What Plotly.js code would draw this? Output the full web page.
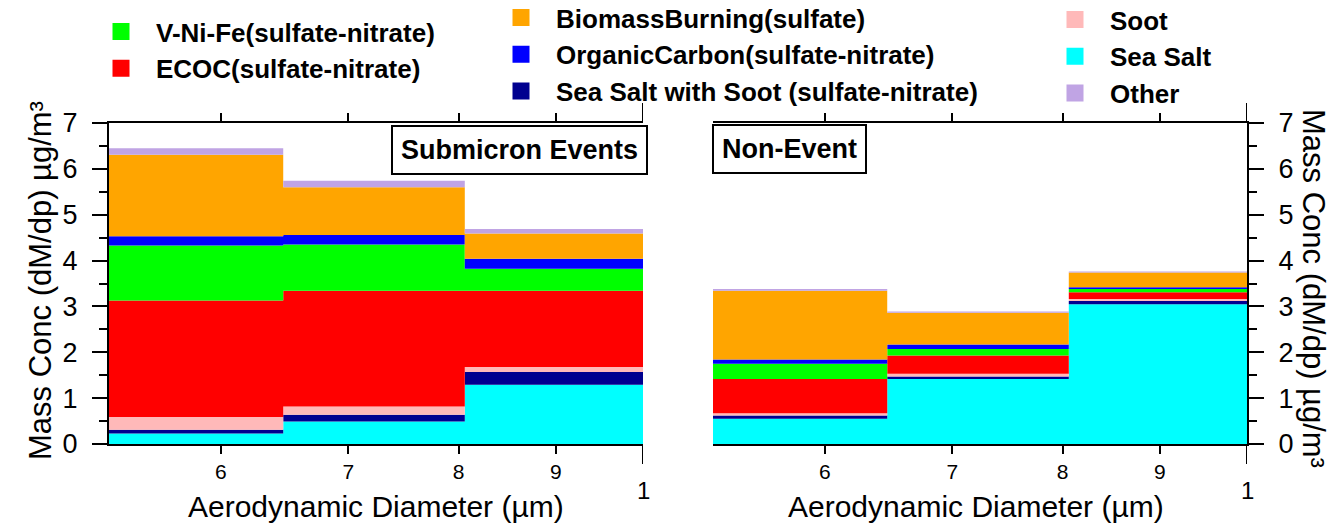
<!DOCTYPE html>
<html><head><meta charset="utf-8">
<script src="https://cdn.plot.ly/plotly-3.0.1.min.js"></script>
<style>html,body{margin:0;padding:0;background:#fff}</style>
</head><body>
<div id="chart" style="width:1343px;height:523px"></div>
<script>
// Bin edges of the aerodynamic diameter (µm), log-spaced
const binEdges = [0.524, 0.647, 0.806, 1.0];
const tickVals = [0.6, 0.7, 0.8, 0.9];
const tickText = ['6', '7', '8', '9'];
const majorTickVal = 1;
const majorTickText = '1';

// Series names (stack order bottom -> top) and colours
const seriesNames = ['Sea Salt', 'Sea Salt with Soot (sulfate-nitrate)', 'Soot', 'ECOC(sulfate-nitrate)',
  'V-Ni-Fe(sulfate-nitrate)', 'OrganicCarbon(sulfate-nitrate)', 'BiomassBurning(sulfate)', 'Other'];
const seriesColors = ['#00ffff', '#00008f', '#ffb9b9', '#ff0000', '#00ff00', '#0000ff', '#ffa500', '#c0a4e4'];

// Submicron Events (µg/m3 per bin)
const seaSaltEvent   = [0.23, 0.49, 1.29];
const ssSootEvent    = [0.08, 0.15, 0.28];
const sootEvent      = [0.28, 0.18, 0.11];
const ecocEvent      = [2.54, 2.52, 1.66];
const vnifeEvent     = [1.20, 1.01, 0.48];
const ocEvent        = [0.20, 0.21, 0.22];
const biomassEvent   = [1.78, 1.04, 0.55];
const otherEvent     = [0.14, 0.14, 0.10];

// Non-Event
const seaSaltNon   = [0.55, 1.42, 3.05];
const ssSootNon    = [0.07, 0.05, 0.07];
const sootNon      = [0.05, 0.06, 0.04];
const ecocNon      = [0.75, 0.40, 0.15];
const vnifeNon     = [0.33, 0.14, 0.07];
const ocNon        = [0.09, 0.10, 0.04];
const biomassNon   = [1.50, 0.69, 0.32];
const otherNon     = [0.04, 0.03, 0.02];

// Legend columns (by series index)
const legendCol1 = [4, 3];
const legendCol2 = [6, 5, 1];
const legendCol3 = [2, 0, 7];

const eventSeries = [seaSaltEvent, ssSootEvent, sootEvent, ecocEvent, vnifeEvent, ocEvent, biomassEvent, otherEvent];
const nonSeries = [seaSaltNon, ssSootNon, sootNon, ecocNon, vnifeNon, ocNon, biomassNon, otherNon];

const FONT = 'Liberation Sans, Arial, sans-serif';
const W = 1343, H = 523;
const xDom1 = [109 / W, 643 / W];
const xDom2 = [713 / W, 1247 / W];
const yDom = [1 - 444 / H, 1 - 123 / H];

const traces = [];
function addPanel(series, xa, ya, group) {
  series.forEach((vals, i) => {
    traces.push({
      type: 'scatter', mode: 'lines',
      x: binEdges, y: vals.concat([vals[vals.length - 1]]),
      xaxis: xa, yaxis: ya, stackgroup: group,
      line: {shape: 'hv', width: 0, color: seriesColors[i]},
      fillcolor: seriesColors[i],
      name: seriesNames[i], legendgroup: seriesNames[i],
      showlegend: false, hoverinfo: 'skip'
    });
  });
}
addPanel(eventSeries, 'x', 'y', 'ev');
addPanel(nonSeries, 'x2', 'y2', 'non');

[[legendCol1, 'legend'], [legendCol2, 'legend2'], [legendCol3, 'legend3']].forEach(([col, lg]) => {
  col.forEach(i => {
    traces.push({
      type: 'bar', x: [null], y: [null], xaxis: 'x', yaxis: 'y',
      name: seriesNames[i], legendgroup: seriesNames[i], legend: lg, showlegend: true,
      marker: {color: seriesColors[i], line: {color: seriesColors[i], width: 5}},
      hoverinfo: 'skip'
    });
  });
});

const xAxisBase = {
  type: 'log', range: [Math.log10(binEdges[0]), Math.log10(binEdges[binEdges.length - 1])],
  tickmode: 'array', tickvals: tickVals, ticktext: tickText,
  ticks: 'outside', ticklen: 8, tickwidth: 2, tickcolor: '#000',
  showline: true, linewidth: 2, linecolor: '#000', mirror: 'ticks',
  showgrid: false, zeroline: false, fixedrange: true,
  tickfont: {family: FONT, size: 21, color: '#000'}
};
const yAxisBase = {
  range: [0, 7], tick0: 0, dtick: 1, domain: yDom,
  ticks: 'outside', ticklen: 15, tickwidth: 2, tickcolor: '#000',
  minor: {dtick: 0.5, ticks: 'outside', ticklen: 8, tickwidth: 2, tickcolor: '#000', showgrid: false},
  showline: true, linewidth: 2, linecolor: '#000', mirror: false,
  showgrid: false, zeroline: false, fixedrange: true, ticklabelstandoff: 9,
  tickfont: {family: FONT, size: 27, color: '#000'}
};

const legendBase = {
  xanchor: 'left', yanchor: 'top', bgcolor: 'rgba(0,0,0,0)', borderwidth: 0,
  itemwidth: 60, tracegroupgap: 0, traceorder: 'normal', itemclick: false, itemdoubleclick: false,
  font: {family: FONT, size: 26, color: '#000', weight: 'bold'}
};

// Long major ticks at diameter = 1 (top and bottom of each panel)
const tickLong = 20 / H;
const shapes = [];
['x', 'x2'].forEach(xa => {
  shapes.push({type: 'line', xref: xa, yref: 'paper', x0: majorTickVal, x1: majorTickVal, y0: yDom[0] - tickLong, y1: yDom[0], line: {color: '#000', width: 2}});
  shapes.push({type: 'line', xref: xa, yref: 'paper', x0: majorTickVal, x1: majorTickVal, y0: yDom[1], y1: yDom[1] + tickLong, line: {color: '#000', width: 2}});
});

const yTitle = 'Mass Conc (dM/dp) µg/m³';
const xTitle = 'Aerodynamic Diameter (µm)';
const annotations = [
  {text: yTitle, xref: 'paper', yref: 'paper', x: 40 / W, y: 1 - 281 / H, xanchor: 'center', yanchor: 'middle',
   textangle: -90, showarrow: false, font: {family: FONT, size: 31, color: '#000'}},
  {text: yTitle, xref: 'paper', yref: 'paper', x: 1314 / W, y: 1 - 288 / H, xanchor: 'center', yanchor: 'middle',
   textangle: 90, showarrow: false, font: {family: FONT, size: 31, color: '#000'}},
  {text: xTitle, xref: 'paper', yref: 'paper', x: 376 / W, y: 1 - 506 / H, xanchor: 'center', yanchor: 'middle',
   showarrow: false, font: {family: FONT, size: 30, color: '#000'}},
  {text: xTitle, xref: 'paper', yref: 'paper', x: 976 / W, y: 1 - 506 / H, xanchor: 'center', yanchor: 'middle',
   showarrow: false, font: {family: FONT, size: 30, color: '#000'}},
  {text: majorTickText, xref: 'x', yref: 'paper', x: Math.log10(majorTickVal), y: 1 - 490 / H, xanchor: 'center', yanchor: 'middle',
   showarrow: false, font: {family: FONT, size: 24, color: '#000'}},
  {text: majorTickText, xref: 'x2', yref: 'paper', x: Math.log10(majorTickVal), y: 1 - 490 / H, xanchor: 'center', yanchor: 'middle',
   showarrow: false, font: {family: FONT, size: 24, color: '#000'}},
  {text: 'Submicron Events', xref: 'paper', yref: 'paper', x: 648 / W, y: 1 - 125 / H, xanchor: 'right', yanchor: 'top',
   showarrow: false, bgcolor: '#fff', bordercolor: '#000', borderwidth: 2, borderpad: 8,
   font: {family: FONT, size: 27, color: '#000', weight: 'bold'}},
  {text: 'Non-Event', xref: 'paper', yref: 'paper', x: 712 / W, y: 1 - 124 / H, xanchor: 'left', yanchor: 'top',
   showarrow: false, bgcolor: '#fff', bordercolor: '#000', borderwidth: 2, borderpad: 8,
   font: {family: FONT, size: 27, color: '#000', weight: 'bold'}}
];

const layout = {
  width: W, height: H,
  margin: {l: 0, r: 0, t: 0, b: 0, autoexpand: false},
  paper_bgcolor: '#fff', plot_bgcolor: '#fff',
  font: {family: FONT, color: '#000'},
  xaxis: Object.assign({}, xAxisBase, {domain: xDom1, anchor: 'y'}),
  yaxis: Object.assign({}, yAxisBase, {anchor: 'x', side: 'left'}),
  xaxis2: Object.assign({}, xAxisBase, {domain: xDom2, anchor: 'y2'}),
  yaxis2: Object.assign({}, yAxisBase, {anchor: 'x2', side: 'right'}),
  legend: Object.assign({}, legendBase, {x: 86 / W, y: 1 - 8 / H}),
  legend2: Object.assign({}, legendBase, {x: 486 / W, y: 1 + 6 / H}),
  legend3: Object.assign({}, legendBase, {x: 1040 / W, y: 1 + 4 / H}),
  shapes: shapes,
  annotations: annotations,
  showlegend: true
};

Plotly.newPlot('chart', traces, layout, {displayModeBar: false, staticPlot: true});
</script>
</body></html>
